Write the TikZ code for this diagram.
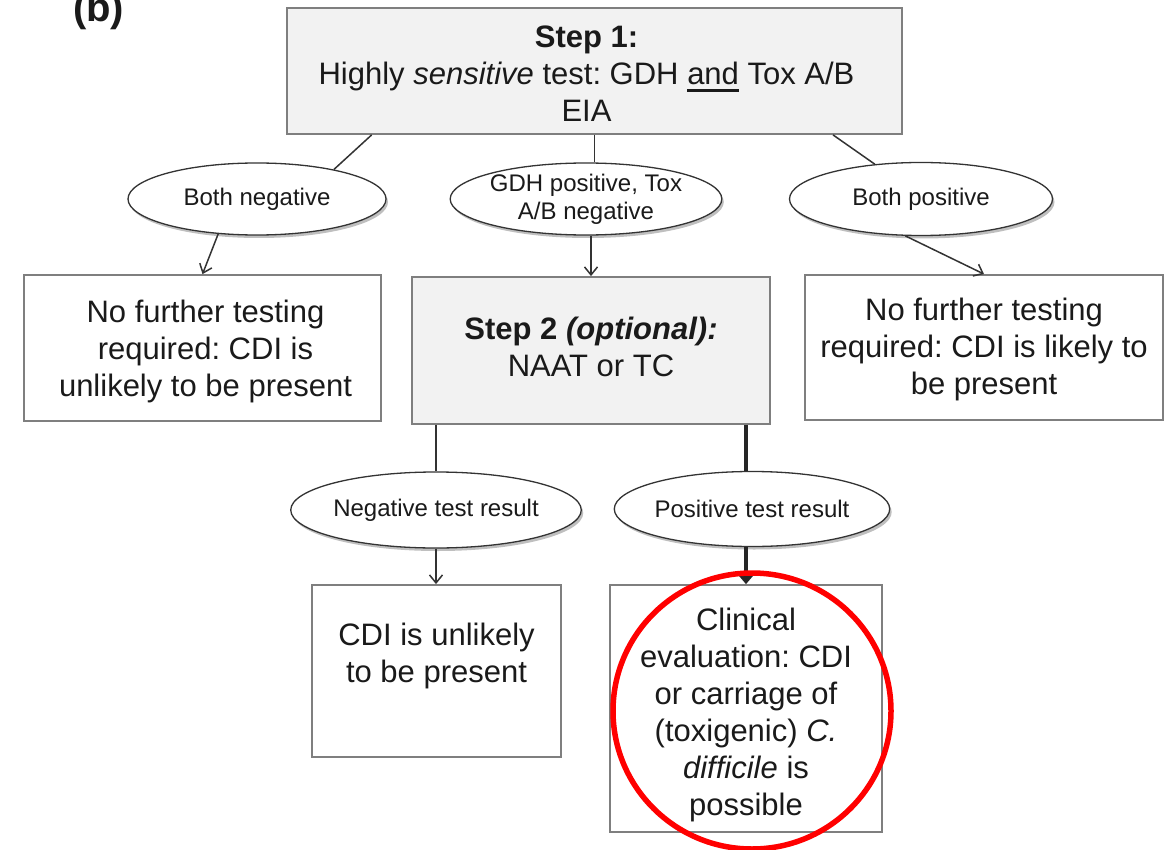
\documentclass[tikz,border=0pt]{standalone}
\usepackage{fontspec}
\setmainfont{Liberation Sans}
\usetikzlibrary{arrows.meta,shapes.geometric,shadows}
\definecolor{boxgray}{HTML}{F2F2F2}
\definecolor{bordergray}{HTML}{7F7F7F}
\definecolor{linegray}{HTML}{333333}
\definecolor{txt}{HTML}{1A1A1A}
\newcommand\thickund[1]{\sbox0{#1}\rlap{\rule[-8pt]{\wd0}{3.5pt}}\usebox0}
\newcommand\lowertxt[2]{\raisebox{#1}[\height][\depth]{\begin{tabular}{@{}c@{}}#2\end{tabular}}}
\frenchspacing
\begin{document}
\frenchspacing
\begin{tikzpicture}[x=1pt,y=-1pt,
  every node/.style={text=txt},
  plainbox/.style={draw=bordergray, line width=1.8pt, rectangle, inner sep=0pt, fill=white, font=\fontsize{31}{37}\selectfont},
  graybox/.style={plainbox, fill=boxgray},
  ovalnode/.style={ellipse, draw=linegray, line width=1.3pt, fill=white, inner sep=0pt, align=center,
    font=\fontsize{24}{28}\selectfont,
    drop shadow={shadow xshift=2pt, shadow yshift=-3pt, opacity=0.25, fill=black}},
  conn/.style={draw=linegray, line width=1.5pt},
  arr/.style={conn, -{Straight Barb[length=8pt,width=13pt]}},
  thickconn/.style={draw=black!85, line width=3.5pt},
]
\useasboundingbox (0,0) rectangle (1169,850);
\clip (0,0) rectangle (1169,850);

\node[font=\fontsize{40}{40}\selectfont\bfseries, anchor=base west, inner sep=0pt] (lbl) at (73,22) {(b)};

\node[graybox, minimum width=615pt, minimum height=126pt] (top) at (594.5,71)
  {\hspace*{-16pt}\lowertxt{-6pt}{\textbf{Step 1:}\\Highly \textit{sensitive} test: GDH \thickund{and} Tox A/B\\EIA}};

\node[ovalnode, minimum width=258pt, minimum height=72pt] (e1) at (257,199) {Both negative};
\node[ovalnode, minimum width=262pt, minimum height=72pt] (e2) at (586,199) {GDH positive, Tox\\A/B negative};
\node[ovalnode, minimum width=263pt, minimum height=73pt] (e3) at (921,199) {Both positive};

\node[plainbox, minimum width=357pt, minimum height=146pt] (b1) at (202.5,348)
  {\hspace*{6pt}\lowertxt{-4pt}{No further testing\\required: CDI is\\unlikely to be present}};
\node[graybox, minimum width=358pt, minimum height=147pt] (b2) at (591,350.5)
  {\lowertxt{0pt}{\textbf{Step 2 \textit{(optional):}}\\NAAT or TC}};
\node[plainbox, minimum width=358pt, minimum height=145pt] (b3) at (984,347.5)
  {\lowertxt{-3pt}{No further testing\\required: CDI is likely to\\be present}};

\node[ovalnode, minimum width=265pt, minimum height=76pt] (e4) at (436,510) {Negative test result};
\node[ovalnode, minimum width=261pt, minimum height=75pt] (e5) at (752,509) {Positive test result};

\node[plainbox, minimum width=249pt, minimum height=172pt] (b4) at (436.5,671)
  {\lowertxt{-4pt}{CDI is unlikely\\to be present\\\strut}};
\node[plainbox, minimum width=272pt, minimum height=247pt] (b5) at (746,708.5)
  {\lowertxt{-7pt}{Clinical\\evaluation: CDI\\or carriage of\\(toxigenic) \textit{C.}\\\textit{difficile} is\\possible}};

\draw[conn] (top.196.4) -- (e1.21.8);
\draw[arr] (e1.222.7) -- (b1.north);
\draw[conn] (top.south) -- (top.south |- e2.north);
\draw[arr] (b2.north |- e2.south) -- (b2.north);
\draw[conn] (top.345.8) -- (e3.143.7);
\draw[arr] (e3.247.2) -- (b3.north);

\draw[conn] (e4.north |- b2.south) -- (e4.north);
\draw[thickconn] (b5.north |- b2.south) -- (b5.north |- e5.north);
\draw[arr] (e4.south) -- (e4.south |- b4.north);
\draw[thickconn, -{Straight Barb[length=7pt,width=12pt]}] (b5.north |- e5.south) -- (b5.north);

\draw[red, line width=5.5pt] (752,711) ellipse [x radius=139, y radius=138];
\end{tikzpicture}
\end{document}
